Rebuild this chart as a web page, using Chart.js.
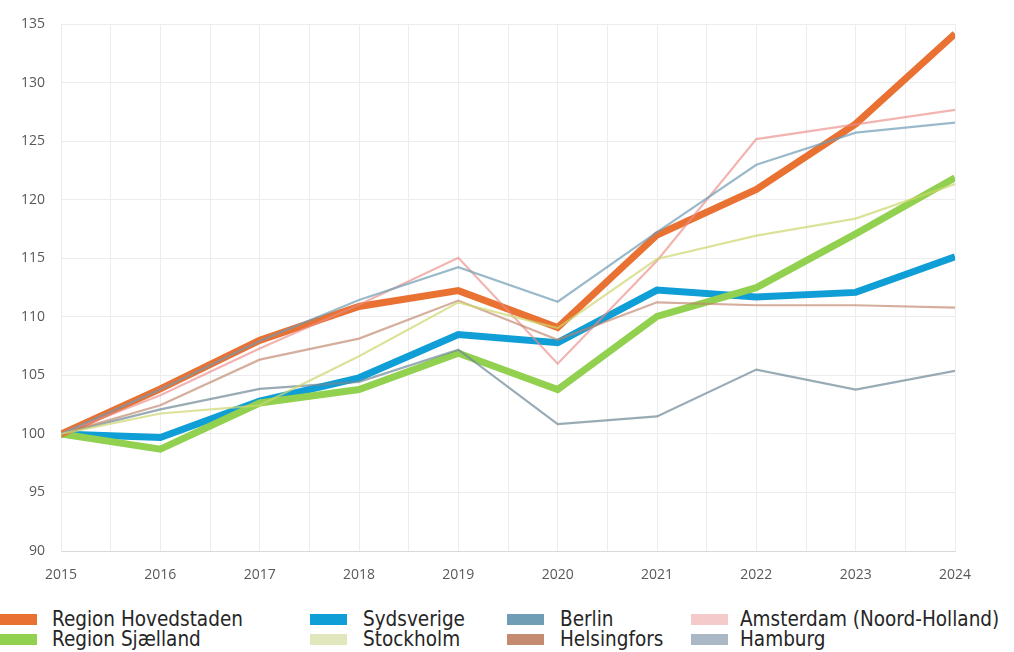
<!DOCTYPE html>
<html>
<head>
<meta charset="utf-8">
<script src="https://cdn.jsdelivr.net/npm/chart.js@4.4.1/dist/chart.umd.min.js"></script>
<style>
  body { margin: 0; background: #fff; overflow: hidden; }
  #wrap { position: relative; width: 1014px; height: 652px; }
  #chartBox { position: absolute; left: 0; top: 0; width: 1014px; height: 600px; }
  .leg { position: absolute; font-family: "Liberation Sans Narrow", "DejaVu Sans Condensed", sans-serif; font-size: 20.5px; color: #262626; white-space: nowrap; line-height: 19px; }
  .sw { position: absolute; height: 11px; }
</style>
</head>
<body>
<div id="wrap">
  <div id="chartBox"><canvas id="chart" width="1014" height="600"></canvas></div>
  <div id="legend"></div>
</div>
<script>
const years = [2015, 2016, 2017, 2018, 2019, 2020, 2021, 2022, 2023, 2024];
const yTicks = [90, 95, 100, 105, 110, 115, 120, 125, 130, 135];

const hovedstaden = [100, 103.85, 108.0, 110.9, 112.25, 109.1, 117.0, 120.9, 126.5, 134.2];
const sjaelland = [100, 98.7, 102.65, 103.8, 106.9, 103.8, 110.05, 112.5, 117.1, 121.9];
const sydsverige = [100, 99.7, 102.8, 104.8, 108.5, 107.8, 112.3, 111.7, 112.1, 115.15];
const stockholm = [100, 101.75, 102.45, 106.65, 111.25, 109.05, 114.95, 116.95, 118.4, 121.35];
const berlin = [100, 103.8, 107.95, 111.45, 114.25, 111.3, 117.25, 123.0, 125.75, 126.6];
const helsingfors = [100, 102.45, 106.35, 108.15, 111.4, 108.05, 111.25, 111.0, 111.0, 110.8];
const amsterdam = [100, 103.3, 107.3, 111.05, 115.05, 106.0, 114.8, 125.2, 126.45, 127.7];
const hamburg = [100, 102.1, 103.85, 104.45, 107.2, 100.85, 101.5, 105.5, 103.8, 105.4];

// legend layout: column / row index for each series
const series = [
  { name: "Region Hovedstaden", data: hovedstaden, line: "#e97132", swatch: "#e97132", width: 7, col: 0, row: 0 },
  { name: "Region Sjælland", data: sjaelland, line: "#92d050", swatch: "#92d050", width: 7, col: 0, row: 1 },
  { name: "Sydsverige", data: sydsverige, line: "#0f9ed5", swatch: "#0f9ed5", width: 7, col: 1, row: 0 },
  { name: "Stockholm", data: stockholm, line: "rgba(205,215,110,0.7)", swatch: "#e1e6bd", width: 2.2, col: 1, row: 1 },
  { name: "Berlin", data: berlin, line: "rgba(111,157,181,0.7)", swatch: "#6f9db5", width: 2.2, col: 2, row: 0 },
  { name: "Helsingfors", data: helsingfors, line: "rgba(190,130,105,0.65)", swatch: "#c48b70", width: 2.2, col: 2, row: 1 },
  { name: "Amsterdam (Noord-Holland)", data: amsterdam, line: "rgba(235,140,135,0.65)", swatch: "#f5cacb", width: 2.2, col: 3, row: 0 },
  { name: "Hamburg", data: hamburg, line: "rgba(110,135,150,0.7)", swatch: "#aab8c6", width: 2.2, col: 3, row: 1 }
];

const colSwatch = [0, 310, 507, 691];
const colText = [52, 363, 560, 740];
const rowTop = [614, 634];

const legend = document.getElementById("legend");
series.forEach(function (s) {
  const sw = document.createElement("div");
  sw.className = "sw";
  sw.style.left = colSwatch[s.col] + "px";
  sw.style.top = rowTop[s.row] + "px";
  sw.style.width = "37px";
  sw.style.background = s.swatch;
  legend.appendChild(sw);
  const t = document.createElement("div");
  t.className = "leg";
  t.style.left = colText[s.col] + "px";
  t.style.top = (rowTop[s.row] - 4) + "px";
  t.textContent = s.name;
  legend.appendChild(t);
});

const datasets = series.map(function (s) {
  return {
    label: s.name,
    data: s.data.map((v, i) => ({ x: years[i], y: v })),
    borderColor: s.line,
    backgroundColor: s.line,
    borderWidth: s.width,
    pointRadius: 0,
    tension: 0,
    clip: 0,
    borderJoinStyle: "miter",
    order: s.width > 5 ? 1 : 0 // thin lines over the thick ones
  };
});

const ctx = document.getElementById("chart").getContext("2d");
new Chart(ctx, {
  type: "line",
  data: { datasets: datasets },
  options: {
    responsive: false,
    animation: false,
    maintainAspectRatio: false,
    layout: { padding: { top: 21, right: 59, left: 0, bottom: 0 } },
    plugins: { legend: { display: false }, tooltip: { enabled: false } },
    scales: {
      x: {
        type: "linear",
        min: years[0],
        max: years[years.length - 1],
        ticks: {
          stepSize: 0.5,
          autoSkip: false,
          maxRotation: 0,
          color: "#595959",
          font: { family: "Open Sans", size: 14 },
          padding: 16,
          callback: (v) => (Number.isInteger(v) ? String(v) : "")
        },
        grid: { color: "#ececec", lineWidth: 1, drawTicks: false },
        border: { color: "#d9d9d9" },
        afterFit: (scale) => { scale.height = 49; }
      },
      y: {
        min: yTicks[0],
        max: yTicks[yTicks.length - 1],
        afterBuildTicks: (scale) => { scale.ticks = yTicks.map((v) => ({ value: v })); },
        ticks: {
          color: "#595959",
          font: { family: "Open Sans", size: 14 },
          padding: 16
        },
        grid: { color: "#ececec", lineWidth: 1, drawTicks: false },
        border: { color: "#ececec" },
        afterFit: (scale) => { scale.width = 61; }
      }
    }
  }
});
</script>
</body>
</html>
